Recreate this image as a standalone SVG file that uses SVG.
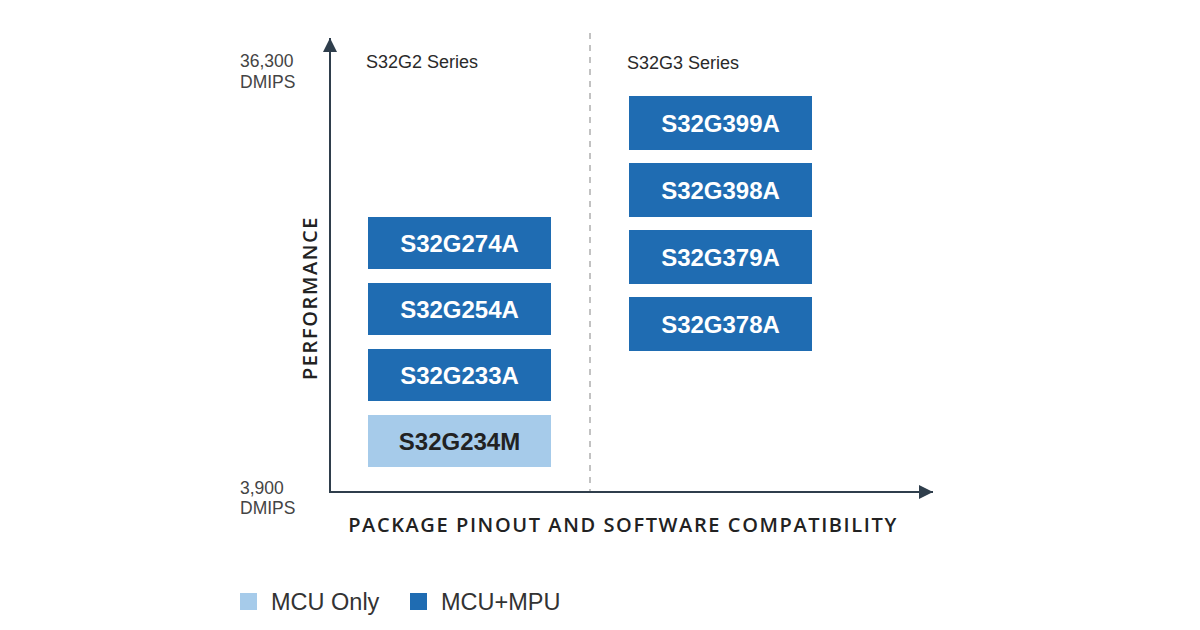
<svg xmlns="http://www.w3.org/2000/svg" width="1200" height="630" viewBox="0 0 1200 630">
<style>
.lbl{font-family:"Liberation Sans",Arial,sans-serif;font-size:17.5px;fill:#444}
.ser{font-family:"Liberation Sans",Arial,sans-serif;font-size:18px;fill:#2a2a2a}
.dark{fill:#1f6cb2}
.light{fill:#a6cbea}
.bt{font-family:"Liberation Sans",Arial,sans-serif;font-size:24px;font-weight:bold;fill:#fff;text-anchor:middle}
.btd{font-family:"Liberation Sans",Arial,sans-serif;font-size:24px;font-weight:bold;fill:#222;text-anchor:middle}
.ax{font-family:"Open Sans","Liberation Sans",sans-serif;font-size:20px;font-weight:600;fill:#222;letter-spacing:1.6px}
.leg{font-family:"Liberation Sans",Arial,sans-serif;font-size:23.5px;fill:#333}
</style>
<defs>
<marker id="ah" viewBox="0 0 10 10" refX="10" refY="5" markerWidth="14" markerHeight="14" markerUnits="userSpaceOnUse" orient="auto">
<path d="M0,0 L10,5 L0,10 z" fill="#2f3e4c"/>
</marker>
</defs>
<g id="connectors">
<line x1="330" y1="492" x2="330" y2="38" stroke="#2f3e4c" stroke-width="2" marker-end="url(#ah)"/>
<line x1="329" y1="492" x2="933" y2="492" stroke="#2f3e4c" stroke-width="2" marker-end="url(#ah)"/>
<line x1="590" y1="33" x2="590" y2="491" stroke="#9a9a9a" stroke-width="1.2" stroke-dasharray="6,6"/>
</g>
<g id="axis-labels">
<text class="lbl" x="240" y="67">36,300</text>
<text class="lbl" x="240" y="88">DMIPS</text>
<text class="lbl" x="240" y="494">3,900</text>
<text class="lbl" x="240" y="514">DMIPS</text>
<text class="ax" transform="translate(317,298) rotate(-90)" text-anchor="middle">PERFORMANCE</text>
<text class="ax" x="623" y="532" text-anchor="middle">PACKAGE PINOUT AND SOFTWARE COMPATIBILITY</text>
<text class="ser" x="366" y="68">S32G2 Series</text>
<text class="ser" x="627" y="69">S32G3 Series</text>
</g>
<g id="S32G274A"><rect class="dark" x="368" y="217" width="183" height="52"/><text class="bt" x="459.5" y="252">S32G274A</text></g>
<g id="S32G254A"><rect class="dark" x="368" y="283" width="183" height="52"/><text class="bt" x="459.5" y="318">S32G254A</text></g>
<g id="S32G233A"><rect class="dark" x="368" y="349" width="183" height="52"/><text class="bt" x="459.5" y="384">S32G233A</text></g>
<g id="S32G234M"><rect class="light" x="368" y="415" width="183" height="52"/><text class="btd" x="459.5" y="450">S32G234M</text></g>
<g id="S32G399A"><rect class="dark" x="629" y="96" width="183" height="54"/><text class="bt" x="720.5" y="132">S32G399A</text></g>
<g id="S32G398A"><rect class="dark" x="629" y="163" width="183" height="54"/><text class="bt" x="720.5" y="199">S32G398A</text></g>
<g id="S32G379A"><rect class="dark" x="629" y="230" width="183" height="54"/><text class="bt" x="720.5" y="266">S32G379A</text></g>
<g id="S32G378A"><rect class="dark" x="629" y="297" width="183" height="54"/><text class="bt" x="720.5" y="333">S32G378A</text></g>
<g id="legend">
<rect class="light" x="240" y="593" width="17" height="17"/>
<text class="leg" x="271" y="610">MCU Only</text>
<rect class="dark" x="410" y="593" width="17" height="17"/>
<text class="leg" x="441" y="610">MCU+MPU</text>
</g>
</svg>
